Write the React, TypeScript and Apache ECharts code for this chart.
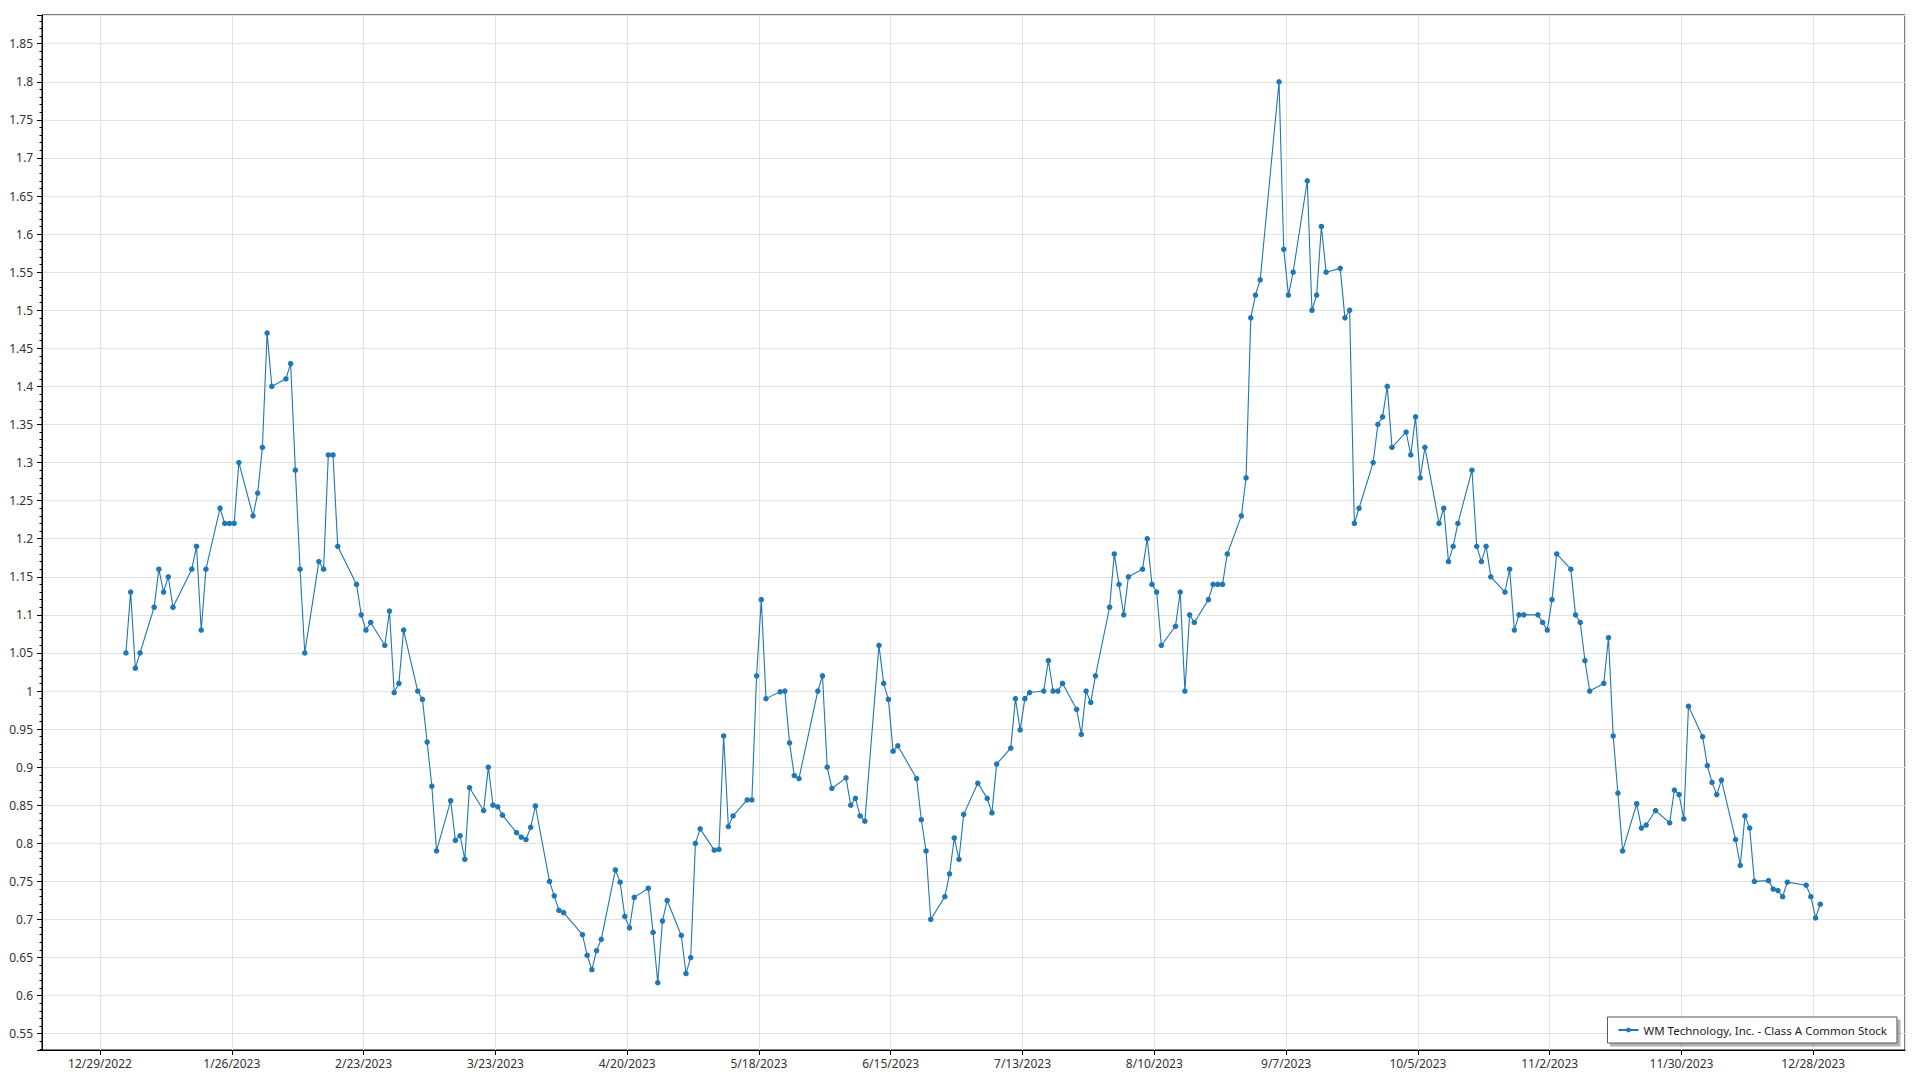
import React, { useEffect, useRef } from "react";
import * as echarts from "echarts";

const SERIES_NAME = "WM Technology, Inc. - Class A Common Stock";
const YEAR = 2023;
// x axis counts days from this origin date; ticks every 28 days
const AXIS_ORIGIN = Date.UTC(2022, 11, 29);
const DAY_MS = 86400000;
const X_TICK_STEP = 28;
const Y_TICK_STEP = 0.05;
const X_MIN = -12.33;
const X_MAX = 383.5;
const Y_MIN = 0.5286;
const Y_MAX = 1.8877;
// each close is stamped at midday of its trading date
const CLOSE_TIME_OF_DAY = 0.5;

// trading days (day of month) and closing prices, 2023
const janDays = [3, 4, 5, 6, 9, 10, 11, 12, 13, 17, 18, 19, 20, 23, 24, 25, 26, 27, 30, 31];
const janPrices = [1.05, 1.13, 1.03, 1.05, 1.11, 1.16, 1.13, 1.15, 1.11, 1.16, 1.19, 1.08, 1.16, 1.24, 1.22, 1.22, 1.22, 1.3, 1.23, 1.26];

const febDays = [1, 2, 3, 6, 7, 8, 9, 10, 13, 14, 15, 16, 17, 21, 22, 23, 24, 27, 28];
const febPrices = [1.32, 1.47, 1.4, 1.41, 1.43, 1.29, 1.16, 1.05, 1.17, 1.16, 1.31, 1.31, 1.19, 1.14, 1.1, 1.08, 1.09, 1.06, 1.105];

const marDays = [1, 2, 3, 6, 7, 8, 9, 10, 13, 14, 15, 16, 17, 20, 21, 22, 23, 24, 27, 28, 29, 30, 31];
const marPrices = [0.998, 1.01, 1.08, 1.0, 0.989, 0.933, 0.875, 0.79, 0.856, 0.804, 0.81, 0.779, 0.873, 0.843, 0.9, 0.85, 0.848, 0.837, 0.814, 0.808, 0.805, 0.821, 0.849];

const aprDays = [3, 4, 5, 6, 10, 11, 12, 13, 14, 17, 18, 19, 20, 21, 24, 25, 26, 27, 28];
const aprPrices = [0.75, 0.731, 0.712, 0.709, 0.68, 0.653, 0.634, 0.659, 0.674, 0.765, 0.749, 0.704, 0.689, 0.729, 0.741, 0.683, 0.617, 0.698, 0.725];

const mayDays = [1, 2, 3, 4, 5, 8, 9, 10, 11, 12, 15, 16, 17, 18, 19, 22, 23, 24, 25, 26, 30, 31];
const mayPrices = [0.679, 0.629, 0.65, 0.8, 0.819, 0.791, 0.792, 0.941, 0.822, 0.836, 0.857, 0.857, 1.02, 1.12, 0.99, 0.999, 1.0, 0.932, 0.889, 0.885, 1.0, 1.02];

const junDays = [1, 2, 5, 6, 7, 8, 9, 12, 13, 14, 15, 16, 20, 21, 22, 23, 26, 27, 28, 29, 30];
const junPrices = [0.9, 0.872, 0.886, 0.85, 0.859, 0.836, 0.829, 1.06, 1.01, 0.989, 0.921, 0.928, 0.885, 0.831, 0.79, 0.7, 0.73, 0.76, 0.807, 0.779, 0.838];

const julDays = [3, 5, 6, 7, 10, 11, 12, 13, 14, 17, 18, 19, 20, 21, 24, 25, 26, 27, 28, 31];
const julPrices = [0.879, 0.859, 0.84, 0.904, 0.925, 0.99, 0.949, 0.99, 0.998, 1.0, 1.04, 1.0, 1.0, 1.01, 0.976, 0.943, 1.0, 0.985, 1.02, 1.11];

const augDays = [1, 2, 3, 4, 7, 8, 9, 10, 11, 14, 15, 16, 17, 18, 21, 22, 23, 24, 25, 28, 29, 30, 31];
const augPrices = [1.18, 1.14, 1.1, 1.15, 1.16, 1.2, 1.14, 1.13, 1.06, 1.085, 1.13, 1.0, 1.1, 1.09, 1.12, 1.14, 1.14, 1.14, 1.18, 1.23, 1.28, 1.49, 1.52];

const sepDays = [1, 5, 6, 7, 8, 11, 12, 13, 14, 15, 18, 19, 20, 21, 22, 25, 26, 27, 28, 29];
const sepPrices = [1.54, 1.8, 1.58, 1.52, 1.55, 1.67, 1.5, 1.52, 1.61, 1.55, 1.555, 1.49, 1.5, 1.22, 1.24, 1.3, 1.35, 1.36, 1.4, 1.32];

const octDays = [2, 3, 4, 5, 6, 9, 10, 11, 12, 13, 16, 17, 18, 19, 20, 23, 24, 25, 26, 27, 30, 31];
const octPrices = [1.34, 1.31, 1.36, 1.28, 1.32, 1.22, 1.24, 1.17, 1.19, 1.22, 1.29, 1.19, 1.17, 1.19, 1.15, 1.13, 1.16, 1.08, 1.1, 1.1, 1.1, 1.09];

const novDays = [1, 2, 3, 6, 7, 8, 9, 10, 13, 14, 15, 16, 17, 20, 21, 22, 24, 27, 28, 29, 30];
const novPrices = [1.08, 1.12, 1.18, 1.16, 1.1, 1.09, 1.04, 1.0, 1.01, 1.07, 0.941, 0.866, 0.79, 0.852, 0.82, 0.824, 0.843, 0.827, 0.87, 0.864, 0.832];

const decDays = [1, 4, 5, 6, 7, 8, 11, 12, 13, 14, 15, 18, 19, 20, 21, 22, 26, 27, 28, 29];
const decPrices = [0.98, 0.94, 0.902, 0.88, 0.864, 0.883, 0.805, 0.771, 0.836, 0.82, 0.75, 0.751, 0.74, 0.738, 0.73, 0.749, 0.745, 0.73, 0.702, 0.72];

const monthDays = [janDays, febDays, marDays, aprDays, mayDays, junDays, julDays, augDays, sepDays, octDays, novDays, decDays];
const monthPrices = [janPrices, febPrices, marPrices, aprPrices, mayPrices, junPrices, julPrices, augPrices, sepPrices, octPrices, novPrices, decPrices];

function buildPoints(): [number, number][] {
  const pts: [number, number][] = [];
  monthDays.forEach((days, m) => {
    days.forEach((d, i) => {
      const t = Date.UTC(YEAR, m, d);
      pts.push([(t - AXIS_ORIGIN) / DAY_MS + CLOSE_TIME_OF_DAY, monthPrices[m][i]]);
    });
  });
  return pts;
}

function formatDate(offset: number): string {
  const dt = new Date(AXIS_ORIGIN + Math.round(offset) * DAY_MS);
  return `${dt.getUTCMonth() + 1}/${dt.getUTCDate()}/${dt.getUTCFullYear()}`;
}

const FONT = "Noto Sans";
const LINE_COLOR = "#1f77b4";

export default function App() {
  const ref = useRef<HTMLDivElement | null>(null);

  useEffect(() => {
    if (!ref.current) return;
    const chart = echarts.init(ref.current, undefined, { renderer: "svg" });
    chart.setOption({
      animation: false,
      backgroundColor: "#ffffff",
      textStyle: { fontFamily: FONT },
      grid: {
        left: 42,
        top: 15,
        right: 15,
        bottom: 30,
        show: true,
        borderColor: "#000",
        borderWidth: 1,
        backgroundColor: "transparent",
        containLabel: false,
        outerBoundsMode: "none",
      },
      xAxis: {
        type: "value",
        min: X_MIN,
        max: X_MAX,
        minInterval: X_TICK_STEP,
        maxInterval: X_TICK_STEP,
        axisLine: { show: true, onZero: false, lineStyle: { color: "#000", width: 1 } },
        axisTick: { show: true, length: 5, lineStyle: { color: "#000" } },
        axisLabel: {
          color: "#333",
          fontSize: 12,
          fontFamily: FONT,
          margin: 7,
          formatter: (v: number) => formatDate(v),
          showMinLabel: false,
          showMaxLabel: false,
        },
        splitLine: { show: true, lineStyle: { color: "#e2e2e2", width: 1 } },
      },
      yAxis: {
        type: "value",
        min: Y_MIN,
        max: Y_MAX,
        minInterval: Y_TICK_STEP,
        maxInterval: Y_TICK_STEP,
        axisLine: { show: true, onZero: false, lineStyle: { color: "#000", width: 1 } },
        axisTick: { show: true, length: 5, lineStyle: { color: "#000" } },
        minorTick: { show: true, splitNumber: 5, length: 2.5, lineStyle: { color: "#000" } },
        axisLabel: {
          color: "#333",
          fontSize: 12,
          fontFamily: FONT,
          margin: 9,
          formatter: (v: number) => String(+v.toFixed(2)),
          showMinLabel: false,
          showMaxLabel: false,
        },
        splitLine: { show: true, lineStyle: { color: "#e2e2e2", width: 1 } },
        minorSplitLine: { show: false },
      },
      legend: {
        right: 23,
        bottom: 37,
        orient: "horizontal",
        backgroundColor: "#fff",
        borderColor: "#555",
        borderWidth: 1,
        borderRadius: 0,
        padding: [7, 10],
        itemWidth: 20,
        itemHeight: 6,
        shadowColor: "rgba(0,0,0,0.3)",
        shadowBlur: 0,
        shadowOffsetX: 3,
        shadowOffsetY: 3,
        textStyle: { color: "#222", fontSize: 11.5, fontFamily: FONT },
        data: [SERIES_NAME],
      },
      series: [
        {
          name: SERIES_NAME,
          type: "line",
          data: buildPoints(),
          symbol: "circle",
          symbolSize: 5.5,
          showAllSymbol: true,
          lineStyle: { color: LINE_COLOR, width: 1.1 },
          itemStyle: { color: LINE_COLOR, borderWidth: 0 },
          emphasis: { disabled: true },
        },
      ],
    });
    return () => chart.dispose();
  }, []);

  return (
    <div
      ref={ref}
      style={{ position: "fixed", left: 0, top: 0, width: "1920px", height: "1080px", background: "#fff" }}
    />
  );
}
